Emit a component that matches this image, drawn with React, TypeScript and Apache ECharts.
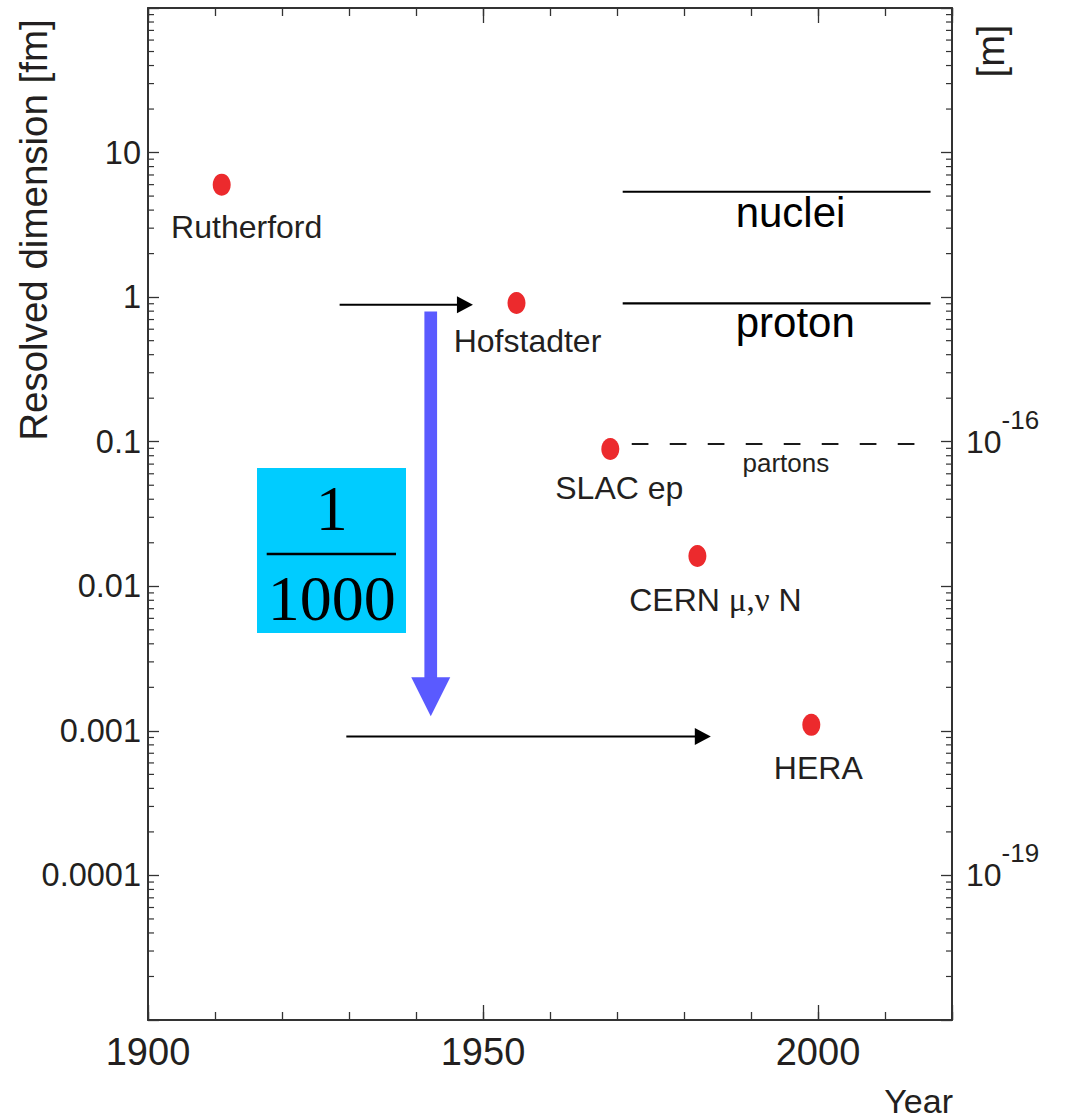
import React, { useEffect, useRef } from 'react';
import * as echarts from 'echarts';

// ---- data ----
const EXPERIMENTS = ['Rutherford', 'Hofstadter', 'SLAC ep', 'CERN μ,ν N', 'HERA'];
const YEARS = [1911, 1955, 1969, 1982, 1999];
const DIMENSIONS_FM = [6.0, 0.911, 0.089, 0.0162, 0.0011];

const X_MIN = 1900;
const X_MAX = 2020;
const X_LABEL_YEARS = [1900, 1950, 2000];
const Y_MIN = 1e-5;
const Y_MAX = 100;
const Y_TICK_EXPONENTS = [1, 0, -1, -2, -3, -4];
const Y_TICK_LABELS = ['10', '1', '0.1', '0.01', '0.001', '0.0001'];
const RIGHT_LABEL_FM_EXPONENTS = [-1, -4];
const RIGHT_LABEL_M_EXPONENTS = ['-16', '-19'];
const MINOR_MANTISSAS = [2, 3, 4, 5, 6, 7, 8, 9];
const DECADE_EXPONENTS = [-5, -4, -3, -2, -1, 0, 1];

const SCALE_NAMES = ['nuclei', 'proton', 'partons'];
const SCALE_START = [1970.85, 1970.85, 1972.2];
const SCALE_END = [2016.8, 2016.8, 2014.4];
const SCALE_SIZE_FM = [5.36, 0.906, 0.0964];
const SCALE_LABEL_YEAR = [1995.9, 1996.6, 1995.2];
const SCALE_LABEL_FM = [3.88, 0.673, 0.0717];

// [fromYear, fm, toYear]
const BLACK_ARROWS = [
  [1928.6, 0.885, 1948.5],
  [1929.6, 0.000915, 1984.0],
];
// [year, fromFm, toFm]
const BLUE_ARROW = [[1942.2, 0.795, 0.00126]];

// ---- styles ----
const SANS = '"Liberation Sans", Arial, Helvetica, sans-serif';
const SERIF = '"Liberation Serif", "Times New Roman", serif';
const TEXT = '#231f20';
const AXIS = '#333333';
const LABEL_OFFSETS = [
  [25, 42],
  [11, 38],
  [9, 38.5],
  [18, 44],
  [7, 43],
];
const SCALE_FONT = [42, 42, 26];

export default function App() {
  const ref = useRef<HTMLDivElement>(null);

  useEffect(() => {
    const chart = echarts.init(ref.current!, undefined, { renderer: 'svg' });

    const minorTicks: number[][] = [];
    DECADE_EXPONENTS.forEach((e) =>
      MINOR_MANTISSAS.forEach((m) => minorTicks.push([X_MIN, m * Math.pow(10, e)]))
    );

    const xBase = (position: 'top' | 'bottom', interval: number, len: number, labels: boolean, line: boolean) => ({
      type: 'value',
      position,
      min: X_MIN,
      max: X_MAX,
      interval,
      axisLine: { show: line, onZero: false, lineStyle: { color: AXIS, width: 2 } },
      axisTick: { show: true, inside: true, length: len, lineStyle: { color: AXIS, width: 1.3 } },
      splitLine: { show: false },
      axisLabel: labels
        ? {
            show: true,
            margin: 13,
            fontSize: 38,
            fontFamily: SANS,
            color: TEXT,
            formatter: (v: number) => (X_LABEL_YEARS.includes(Math.round(v)) ? String(Math.round(v)) : ''),
          }
        : { show: false },
    });

    const yBase = (position: 'left' | 'right', labels: any) => ({
      type: 'log',
      logBase: 10,
      position,
      min: Y_MIN,
      max: Y_MAX,
      splitNumber: 10,
      axisLine: { show: true, onZero: false, lineStyle: { color: AXIS, width: 2 } },
      axisTick: { show: true, inside: true, length: 11, lineStyle: { color: AXIS, width: 1.3 } },
      minorTick: { show: false },
      splitLine: { show: false },
      axisLabel: labels,
    });

    const option: any = {
      animation: false,
      backgroundColor: '#ffffff',
      grid: { left: 148, top: 8, right: 121, bottom: 100, containLabel: false, outerBoundsMode: 'none' },
      xAxis: [
        xBase('bottom', 10, 8, true, true),
        xBase('top', 10, 8, false, true),
        xBase('bottom', 50, 15, false, false),
        xBase('top', 50, 15, false, false),
      ],
      yAxis: [
        yBase('left', {
          show: true,
          margin: 7,
          fontSize: 32.5,
          fontFamily: SANS,
          color: TEXT,
          formatter: (v: number) => {
            const i = Y_TICK_EXPONENTS.indexOf(Math.round(Math.log10(v)));
            return i >= 0 ? Y_TICK_LABELS[i] : '';
          },
        }),
        yBase('right', {
          show: true,
          margin: 14,
          fontFamily: SANS,
          color: TEXT,
          padding: [0, 0, 14, 0],
          formatter: (v: number) => {
            const i = RIGHT_LABEL_FM_EXPONENTS.indexOf(Math.round(Math.log10(v)));
            return i >= 0 ? `{s|${RIGHT_LABEL_M_EXPONENTS[i]}}\n{b|10}` : '';
          },
          rich: {
            b: { fontSize: 32, lineHeight: 30, fontFamily: SANS, color: TEXT },
            s: { fontSize: 26, lineHeight: 14, padding: [0, 0, 0, 35.6], fontFamily: SANS, color: TEXT },
          },
        }),
      ],
      series: [
        // minor log ticks on left and right frame
        {
          type: 'custom',
          xAxisIndex: 0,
          yAxisIndex: 0,
          silent: true,
          data: minorTicks,
          encode: { x: 0, y: 1 },
          renderItem: (params: any, api: any) => {
            const v = api.value(1);
            const l = api.coord([X_MIN, v]);
            const r = api.coord([X_MAX, v]);
            return {
              type: 'group',
              children: [
                { type: 'line', shape: { x1: l[0], y1: l[1], x2: l[0] + 6, y2: l[1] }, style: { stroke: AXIS, lineWidth: 1.2 } },
                { type: 'line', shape: { x1: r[0] - 6, y1: r[1], x2: r[0], y2: r[1] }, style: { stroke: AXIS, lineWidth: 1.2 } },
              ],
            };
          },
        },
        // scale lines
        ...SCALE_NAMES.map((name, i) => ({
          type: 'line',
          name,
          xAxisIndex: 0,
          yAxisIndex: 0,
          showSymbol: false,
          symbol: 'none',
          silent: true,
          data: [
            [SCALE_START[i], SCALE_SIZE_FM[i]],
            [SCALE_END[i], SCALE_SIZE_FM[i]],
          ],
          lineStyle: { color: i === 2 ? '#1a1a1a' : '#000', width: 2.2, type: i === 2 ? [16.7, 21.3] : 'solid' },
        })),
        // scale labels
        {
          type: 'custom',
          xAxisIndex: 0,
          yAxisIndex: 0,
          silent: true,
          data: SCALE_NAMES.map((_, i) => [SCALE_LABEL_YEAR[i], SCALE_LABEL_FM[i], i]),
          encode: { x: 0, y: 1 },
          renderItem: (params: any, api: any) => {
            const p = api.coord([api.value(0), api.value(1)]);
            const i = api.value(2);
            return {
              type: 'text',
              x: p[0],
              y: p[1],
              style: {
                text: SCALE_NAMES[i],
                fontSize: SCALE_FONT[i],
                fontFamily: SANS,
                fill: i === 2 ? TEXT : '#000',
                align: 'center',
                verticalAlign: 'middle',
              },
            };
          },
        },
        // black arrows
        {
          type: 'custom',
          xAxisIndex: 0,
          yAxisIndex: 0,
          silent: true,
          data: BLACK_ARROWS,
          encode: { x: [0, 2], y: 1 },
          renderItem: (params: any, api: any) => {
            const a = api.coord([api.value(0), api.value(1)]);
            const b = api.coord([api.value(2), api.value(1)]);
            const head = 16;
            const half = 8.5;
            return {
              type: 'group',
              children: [
                { type: 'line', shape: { x1: a[0], y1: a[1], x2: b[0] - head + 1, y2: b[1] }, style: { stroke: '#000', lineWidth: 2 } },
                {
                  type: 'polygon',
                  shape: { points: [[b[0], b[1]], [b[0] - head, b[1] - half], [b[0] - head, b[1] + half]] },
                  style: { fill: '#000' },
                },
              ],
            };
          },
        },
        // blue arrow
        {
          type: 'custom',
          xAxisIndex: 0,
          yAxisIndex: 0,
          silent: true,
          data: BLUE_ARROW,
          encode: { x: 0, y: [1, 2] },
          renderItem: (params: any, api: any) => {
            const t = api.coord([api.value(0), api.value(1)]);
            const b = api.coord([api.value(0), api.value(2)]);
            const headLen = 39;
            const headHalf = 19.5;
            const shaft = 12.7;
            return {
              type: 'group',
              children: [
                {
                  type: 'rect',
                  shape: { x: t[0] - shaft / 2, y: t[1], width: shaft, height: b[1] - headLen - t[1] + 1 },
                  style: { fill: '#5a5aff' },
                },
                {
                  type: 'polygon',
                  shape: { points: [[b[0], b[1]], [b[0] - headHalf, b[1] - headLen], [b[0] + headHalf, b[1] - headLen]] },
                  style: { fill: '#5a5aff' },
                },
              ],
            };
          },
        },
        // experiments
        {
          type: 'scatter',
          xAxisIndex: 0,
          yAxisIndex: 0,
          symbol: 'circle',
          symbolSize: [18, 22],
          itemStyle: { color: '#ec2a2d', opacity: 1 },
          data: EXPERIMENTS.map((name, i) => ({
            name,
            value: [YEARS[i], DIMENSIONS_FM[i]],
            label: { offset: LABEL_OFFSETS[i] },
          })),
          label: {
            show: true,
            position: 'inside',
            align: 'center',
            verticalAlign: 'middle',
            fontSize: 32,
            fontFamily: SANS,
            color: TEXT,
            opacity: 1,
            formatter: (p: any) =>
              p.name.includes('μ') ? p.name.replace('μ,ν', '{g|μ,ν}') : p.name,
            rich: {
              g: { fontSize: 33, fontFamily: SERIF, color: TEXT },
            },
          },
        },
      ],
      graphic: [
        {
          type: 'text',
          x: 33,
          y: 230,
          rotation: Math.PI / 2,
          style: { text: 'Resolved dimension [fm]', fontSize: 38.5, fontFamily: SANS, fill: TEXT, align: 'center', verticalAlign: 'middle' },
        },
        {
          type: 'text',
          x: 991,
          y: 51,
          rotation: Math.PI / 2,
          style: { text: '[m]', fontSize: 38, fontFamily: SANS, fill: TEXT, align: 'center', verticalAlign: 'middle' },
        },
        {
          type: 'text',
          x: 953,
          y: 1101,
          style: { text: 'Year', fontSize: 34, fontFamily: SANS, fill: TEXT, align: 'right', verticalAlign: 'middle' },
        },
        {
          type: 'rect',
          shape: { x: 257, y: 468, width: 149, height: 165 },
          style: { fill: '#00ccff' },
        },
        {
          type: 'text',
          x: 331.7,
          y: 508,
          style: { text: '1', fontSize: 64, fontFamily: SERIF, fill: '#000', align: 'center', verticalAlign: 'middle' },
        },
        {
          type: 'line',
          shape: { x1: 266.7, y1: 554, x2: 396, y2: 554 },
          style: { stroke: '#000', lineWidth: 2.5 },
        },
        {
          type: 'text',
          x: 331.7,
          y: 598,
          style: { text: '1000', fontSize: 64, fontFamily: SERIF, fill: '#000', align: 'center', verticalAlign: 'middle' },
        },
      ],
    };

    chart.setOption(option);
    return () => chart.dispose();
  }, []);

  return (
    <div
      ref={ref}
      style={{ position: 'absolute', left: 0, top: 0, width: 1073, height: 1120, background: '#fff' }}
    />
  );
}
